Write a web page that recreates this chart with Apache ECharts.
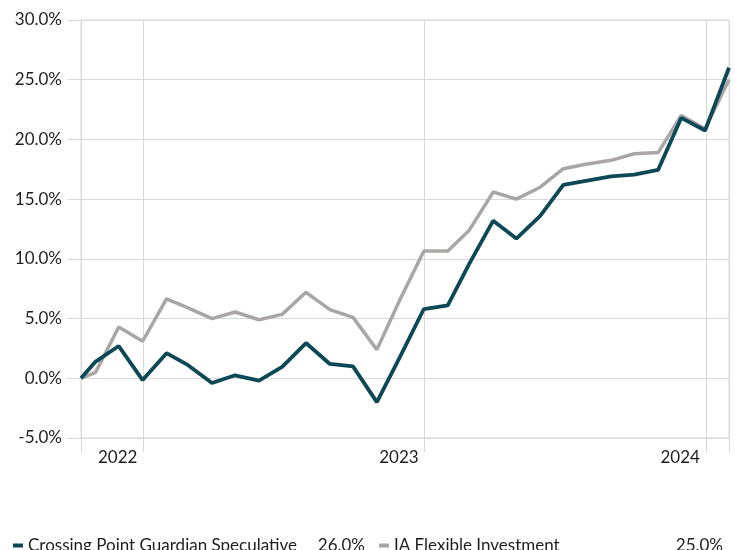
<!DOCTYPE html>
<html>
<head>
<meta charset="utf-8">
<script src="https://cdn.jsdelivr.net/npm/echarts@6/dist/echarts.min.js"></script>
<style>
  html, body { margin: 0; padding: 0; background: #fff; }
  #chart { width: 735px; height: 550px; }
</style>
</head>
<body>
<div id="chart"></div>
<script>
// month-end dates, first point is the start of the period
const dates = ['2021-10-12', '2021-10-31', '2021-11-30', '2021-12-31',
  '2022-01-31', '2022-02-28', '2022-03-31', '2022-04-30', '2022-05-31', '2022-06-30',
  '2022-07-31', '2022-08-31', '2022-09-30', '2022-10-31', '2022-11-30', '2022-12-31',
  '2023-01-31', '2023-02-28', '2023-03-31', '2023-04-30', '2023-05-31', '2023-06-30',
  '2023-07-31', '2023-08-31', '2023-09-30', '2023-10-31', '2023-11-30', '2023-12-31',
  '2024-01-31']

const guardian = [0, 1.4, 2.7, -0.15, 2.1, 1.1, -0.4, 0.25, -0.2, 0.95, 2.95, 1.2, 1.0, -2.0,
  1.8, 5.8, 6.1, 9.6, 13.2, 11.7, 13.6, 16.2, 16.55, 16.9, 17.05, 17.45, 21.8, 20.75, 26.0]

const iaFlexible = [0, 0.5, 4.3, 3.1, 6.65, 5.9, 5.0, 5.55, 4.9, 5.35, 7.2, 5.75, 5.1, 2.4,
  6.6, 10.65, 10.65, 12.4, 15.6, 15.0, 16.0, 17.55, 17.95, 18.25, 18.8, 18.9, 22.0, 20.9, 25.0]

const yearStarts = ['2022-01-01', '2023-01-01', '2024-01-01']

const seriesNames = ['Crossing Point Guardian Speculative', 'IA Flexible Investment']
const legendValues = ['26.0%', '25.0%']

const FONT = 'Lato'
const gridColor = '#d9d9d9'
const textColor = '#1e1e1e'

// dates -> timestamps (UTC) so a plain value axis can take custom ticks
const ts = s => Date.parse(s + 'T00:00:00Z')
const xMin = ts(dates[0])
const xMax = ts(dates[dates.length - 1])
const yearTicks = yearStarts.map(ts)

function toPairs(values) {
  return dates.map((d, i) => [ts(d), values[i]])
}

const chart = echarts.init(document.getElementById('chart'))

chart.setOption({
  animation: false,
  textStyle: { fontFamily: FONT },
  grid: {
    left: 81,
    right: 6,
    top: 20,
    bottom: 112,
    show: true,
    borderColor: gridColor,
    borderWidth: 1,
    containLabel: false
  },
  legend: {
    left: 8,
    top: 532,
    itemGap: 14,
    itemWidth: 10,
    itemHeight: 4,
    icon: 'rect',
    data: seriesNames,
    formatter: function (name) {
      const i = seriesNames.indexOf(name)
      return '{n' + i + '|' + name + '}{v' + i + '|' + legendValues[i] + '}'
    },
    textStyle: {
      fontFamily: FONT,
      fontSize: 17,
      color: textColor,
      rich: {
        n0: { fontFamily: FONT, fontSize: 17, color: textColor, width: 292 },
        v0: { fontFamily: FONT, fontSize: 17, color: textColor, width: 45, align: 'right' },
        n1: { fontFamily: FONT, fontSize: 17, color: textColor, width: 286 },
        v1: { fontFamily: FONT, fontSize: 17, color: textColor, width: 43, align: 'right' }
      }
    }
  },
  xAxis: {
    type: 'value',
    min: xMin,
    max: xMax,
    axisLine: { show: true, onZero: false, lineStyle: { color: gridColor, width: 1 } },
    axisTick: {
      show: true,
      length: 14,
      customValues: [xMin].concat(yearTicks, [xMax]),
      lineStyle: { color: gridColor, width: 1 }
    },
    splitLine: { show: true, lineStyle: { color: gridColor, width: 1 } },
    axisLabel: {
      fontFamily: FONT,
      fontSize: 17,
      color: textColor,
      margin: 11,
      align: 'right',
      padding: [0, 6, 0, 0],
      customValues: yearTicks,
      formatter: function (value) {
        return String(new Date(value).getUTCFullYear())
      }
    }
  },
  yAxis: {
    type: 'value',
    min: -5,
    max: 30,
    interval: 5,
    axisLine: { show: true, onZero: false, lineStyle: { color: gridColor, width: 1 } },
    axisTick: { show: true, length: 14, lineStyle: { color: gridColor, width: 1 } },
    splitLine: { show: true, lineStyle: { color: gridColor, width: 1 } },
    axisLabel: {
      fontFamily: FONT,
      fontSize: 17,
      color: textColor,
      margin: 19,
      formatter: function (v) { return v.toFixed(1) + '%' }
    }
  },
  series: [{
    name: seriesNames[1],
    type: 'line',
    data: toPairs(iaFlexible),
    symbol: 'none',
    color: '#aaa6a6',
    lineStyle: { color: '#aaa6a6', width: 3.5 },
    z: 2
  }, {
    name: seriesNames[0],
    type: 'line',
    data: toPairs(guardian),
    symbol: 'none',
    color: '#0d4857',
    lineStyle: { color: '#0d4857', width: 3.8 },
    z: 3
  }]
})
</script>
</body>
</html>
